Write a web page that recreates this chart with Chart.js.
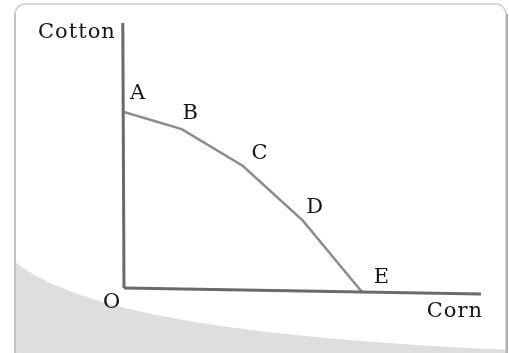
<!DOCTYPE html>
<html>
<head>
<meta charset="utf-8">
<script src="https://cdn.jsdelivr.net/npm/chart.js@4/dist/chart.umd.min.js"></script>
<style>
  html, body { margin: 0; padding: 0; background: #fff; }
  #wrap { width: 509px; height: 353px; }
</style>
</head>
<body>
<div id="wrap"><canvas id="ppf"></canvas></div>
<script>
// Production possibilities: corn vs cotton
const pointNames = ['A', 'B', 'C', 'D', 'E'];
const corn = [0, 0.97, 2, 3.01, 4.0];
const cotton = [10, 9.03, 6.93, 3.81, -0.23];

// axis lines (the source drawing is slightly skewed)
const cornAxisX = [0, 6.0];
const cornAxisY = [0, -0.34];
const cottonAxisX = [0, -0.02];
const cottonAxisY = [0, 15.06];

const axisTitles = { x: 'Corn', y: 'Cotton', origin: 'O' };

const serif = "'DejaVu Serif', 'Liberation Serif', serif";

// label offsets in pixels from each point
const labelOffsets = [[14, -18], [9, -16], [17, -12], [12, -13], [20, -15]];

// frame + grey swoosh behind the chart
const framePlugin = {
  id: 'frame',
  beforeDraw(chart) {
    const c = chart.ctx;
    c.save();
    c.fillStyle = '#fff';
    c.fillRect(0, 0, chart.width, chart.height);

    const x0 = 15, y0 = 4, x1 = 506, y1 = 360, r = 10;
    c.beginPath();
    c.roundRect(x0, y0, x1 - x0, y1 - y0, r);
    c.save();
    c.clip();
    c.beginPath();
    c.moveTo(x0, 262);
    c.bezierCurveTo(70, 305, 200, 336, 509, 350);
    c.lineTo(509, 360);
    c.lineTo(x0, 360);
    c.closePath();
    c.fillStyle = '#dedede';
    c.fill();
    c.restore();

    c.beginPath();
    c.roundRect(x0, y0, x1 - x0, y1 - y0, r);
    c.lineWidth = 1.5;
    c.strokeStyle = '#cfcfcf';
    c.stroke();
    // darker right and left edges
    c.lineWidth = 2;
    c.strokeStyle = '#b0b0b0';
    c.beginPath();
    c.moveTo(x1 + 1, y0 + r);
    c.lineTo(x1 + 1, 353);
    c.stroke();
    c.strokeStyle = '#c2c2c2';
    c.beginPath();
    c.moveTo(x0, y0 + r);
    c.lineTo(x0, 353);
    c.stroke();
    c.restore();
  }
};

// point letters and axis titles
const textPlugin = {
  id: 'texts',
  afterDatasetsDraw(chart) {
    const c = chart.ctx;
    const xs = chart.scales.x, ys = chart.scales.y;
    c.save();
    c.font = '21px ' + serif;
    c.letterSpacing = '1px';
    c.fillStyle = '#141414';
    c.textAlign = 'center';
    c.textBaseline = 'middle';
    pointNames.forEach((name, i) => {
      const px = xs.getPixelForValue(corn[i]) + labelOffsets[i][0];
      const py = ys.getPixelForValue(cotton[i]) + labelOffsets[i][1];
      c.fillText(name, px, py);
    });
    const ox = xs.getPixelForValue(0), oy = ys.getPixelForValue(0);
    c.fillText(axisTitles.origin, ox - 12, oy + 15);

    c.textAlign = 'right';
    const cx = xs.getPixelForValue(cornAxisX[1]);
    const cy = ys.getPixelForValue(cornAxisY[1]);
    c.fillText(axisTitles.x, cx + 2, cy + 18);
    const tx = xs.getPixelForValue(cottonAxisX[1]);
    const ty = ys.getPixelForValue(cottonAxisY[1]);
    c.fillText(axisTitles.y, tx - 7, ty + 10);
    c.restore();
  }
};

const toPts = (xs, ys) => xs.map((x, i) => ({ x, y: ys[i] }));

new Chart(document.getElementById('ppf'), {
  type: 'scatter',
  data: {
    datasets: [
      {
        label: 'Cotton axis',
        data: toPts(cottonAxisX, cottonAxisY),
        showLine: true,
        borderColor: '#6a6a6a',
        borderWidth: 3,
        pointRadius: 0
      },
      {
        label: 'Corn axis',
        data: toPts(cornAxisX, cornAxisY),
        showLine: true,
        borderColor: '#6a6a6a',
        borderWidth: 3,
        pointRadius: 0
      },
      {
        label: 'PPF',
        data: toPts(corn, cotton),
        showLine: true,
        borderColor: '#8c8c8c',
        borderWidth: 2.5,
        pointRadius: 0,
        tension: 0
      }
    ]
  },
  options: {
    responsive: true,
    maintainAspectRatio: false,
    animation: false,
    layout: { padding: 0 },
    plugins: { legend: { display: false }, tooltip: { enabled: false } },
    scales: {
      x: { type: 'linear', display: false, min: -2.084, max: 6.471 },
      y: { type: 'linear', display: false, min: -3.693, max: 16.364 }
    }
  },
  plugins: [framePlugin, textPlugin]
});
</script>
</body>
</html>
